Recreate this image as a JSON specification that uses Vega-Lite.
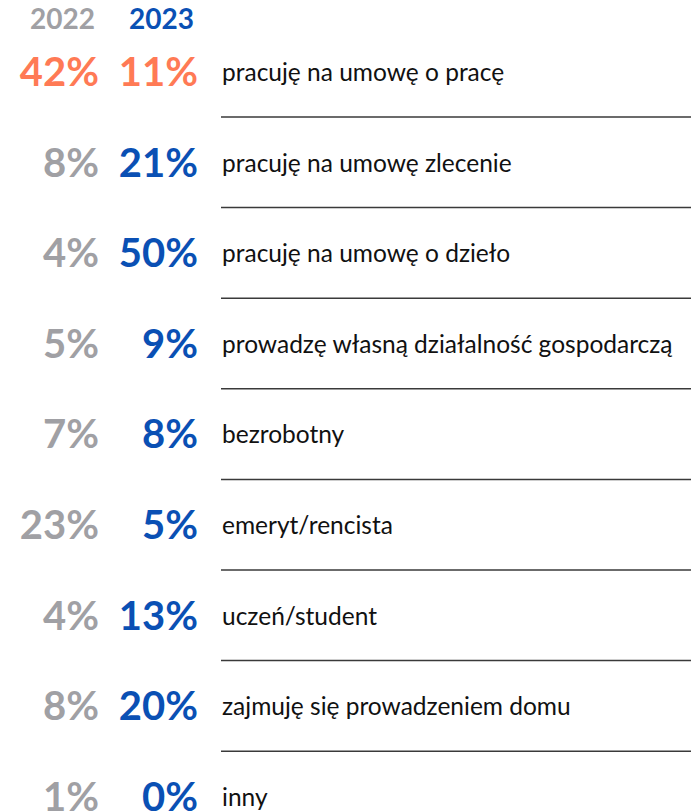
{
  "$schema": "https://vega.github.io/schema/vega-lite/v6.json",
  "width": 691,
  "height": 811,
  "autosize": {"type": "none"},
  "padding": 0,
  "background": "white",
  "config": {"view": {"stroke": null}, "font": "Lato"},
  "datasets": {
    "rows": [
      {"row": 0, "label": "\u2009pracuję na umowę o pracę", "2022": 0.42, "2023": 0.11},
      {"row": 1, "label": "pracuję na umowę zlecenie", "2022": 0.08, "2023": 0.21},
      {"row": 2, "label": "pracuję na umowę o dzieło", "2022": 0.04, "2023": 0.50},
      {"row": 3, "label": "prowadzę własną działalność gospodarczą", "2022": 0.05, "2023": 0.09},
      {"row": 4, "label": "bezrobotny", "2022": 0.07, "2023": 0.08},
      {"row": 5, "label": "emeryt/rencista", "2022": 0.23, "2023": 0.05},
      {"row": 6, "label": "uczeń/student", "2022": 0.04, "2023": 0.13},
      {"row": 7, "label": "zajmuję się prowadzeniem domu", "2022": 0.08, "2023": 0.20},
      {"row": 8, "label": "inny", "2022": 0.01, "2023": 0.00}
    ],
    "headers": [
      {"year": "2022", "row": -0.6},
      {"year": "2023", "row": -0.6}
    ]
  },
  "resolve": {"scale": {"color": "independent"}},
  "layer": [
    {
      "data": {"name": "rows"},
      "transform": [{"filter": "datum.row < 8"}],
      "mark": {"type": "rule", "stroke": "#3a3a3a", "strokeWidth": 1.5, "yOffset": 44, "xOffset": 23},
      "encoding": {
        "y": {"field": "row", "type": "quantitative", "scale": {"domain": [-0.806, 8.146], "reverse": true, "nice": false, "zero": false}, "axis": null},
        "x": {"datum": "2023", "type": "nominal", "scale": {"type": "point", "domain": ["2022", "2023"], "range": [99, 198], "padding": 0}, "axis": null},
        "x2": {"value": 691}
      }
    },
    {
      "data": {"name": "headers"},
      "mark": {"type": "text", "align": "right", "baseline": "middle", "fontSize": 28, "fontWeight": "bold", "dx": -4, "dy": 2},
      "encoding": {
        "y": {"field": "row", "type": "quantitative"},
        "x": {"field": "year", "type": "nominal"},
        "text": {"field": "year"},
        "color": {"field": "year", "type": "nominal", "scale": {"domain": ["2022", "2023"], "range": ["#a0a0a4", "#0a50b4"]}, "legend": null}
      }
    },
    {
      "data": {"name": "rows"},
      "transform": [{"fold": ["2022", "2023"], "as": ["year", "share"]}],
      "mark": {"type": "text", "align": "right", "baseline": "middle", "fontSize": 40, "fontWeight": "bold", "dy": 1},
      "encoding": {
        "y": {"field": "row", "type": "quantitative"},
        "x": {"field": "year", "type": "nominal"},
        "text": {"field": "share", "type": "quantitative", "format": ".0%"},
        "color": {
          "condition": {"test": "datum.row === 0", "value": "#ff7a55"},
          "field": "year", "type": "nominal",
          "scale": {"domain": ["2022", "2023"], "range": ["#a0a0a4", "#0a50b4"]},
          "legend": null
        }
      }
    },
    {
      "data": {"name": "rows"},
      "mark": {"type": "text", "align": "left", "baseline": "middle", "fontSize": 24.5, "color": "#111111", "dx": 24, "dy": 1},
      "encoding": {
        "y": {"field": "row", "type": "quantitative"},
        "x": {"datum": "2023", "type": "nominal"},
        "text": {"field": "label"}
      }
    }
  ]
}
